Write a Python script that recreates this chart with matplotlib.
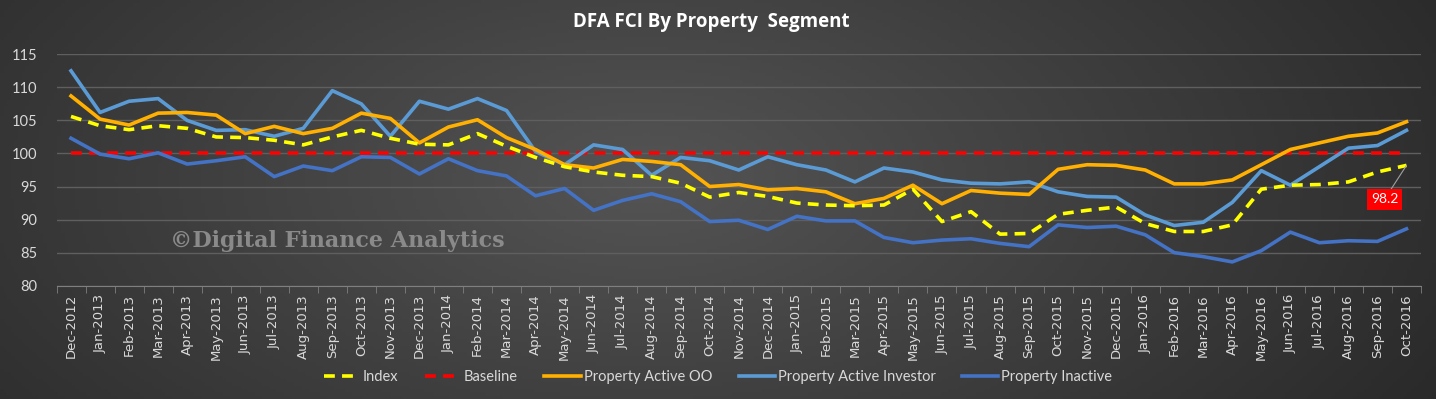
import numpy as np
import pandas as pd
import matplotlib
matplotlib.use("Agg")
import matplotlib.pyplot as plt

# month categories Dec-2012 .. Oct-2016
months = [d.strftime("%b-%Y") for d in pd.date_range("2012-12-01", "2016-10-01", freq="MS")]

index_vals = [105.6, 104.2, 103.6, 104.2, 103.8, 102.5, 102.4, 102.0, 101.3, 102.5,
              103.5, 102.3, 101.4, 101.3, 103.0, 101.1, 99.4, 98.0, 97.2, 96.7,
              96.5, 95.5, 93.4, 94.1, 93.5, 92.5, 92.2, 92.1, 92.2, 94.6,
              89.7, 91.2, 87.8, 87.9, 90.8, 91.4, 91.9, 89.4, 88.2, 88.2,
              89.2, 94.6, 95.2, 95.3, 95.7, 97.2, 98.2]
baseline = 100
active_oo = [108.7, 105.2, 104.3, 106.1, 106.2, 105.8, 103.0, 104.1, 103.0, 103.8,
             106.1, 105.3, 101.6, 104.0, 105.1, 102.4, 100.6, 98.3, 97.8, 99.1,
             98.8, 98.3, 95.0, 95.3, 94.5, 94.7, 94.2, 92.4, 93.2, 95.2,
             92.4, 94.4, 94.0, 93.8, 97.6, 98.3, 98.2, 97.5, 95.4, 95.4,
             96.0, 98.3, 100.6, 101.6, 102.6, 103.1, 104.8]
active_investor = [112.5, 106.2, 107.9, 108.3, 105.0, 103.5, 103.6, 102.6, 103.8, 109.5,
                   107.5, 102.6, 107.9, 106.7, 108.3, 106.5, 100.3, 98.3, 101.3, 100.6,
                   96.7, 99.4, 98.9, 97.5, 99.5, 98.3, 97.5, 95.7, 97.8, 97.2,
                   96.0, 95.5, 95.4, 95.7, 94.2, 93.5, 93.4, 90.7, 89.1, 89.6,
                   92.6, 97.4, 95.2, 98.0, 100.8, 101.2, 103.5]
inactive = [102.3, 99.9, 99.2, 100.1, 98.4, 98.9, 99.5, 96.5, 98.1, 97.4,
            99.5, 99.4, 96.9, 99.2, 97.4, 96.6, 93.6, 94.7, 91.4, 92.9,
            93.9, 92.7, 89.7, 89.9, 88.5, 90.5, 89.8, 89.8, 87.3, 86.5,
            86.9, 87.1, 86.4, 85.9, 89.2, 88.8, 89.0, 87.7, 85.0, 84.4,
            83.6, 85.3, 88.1, 86.5, 86.8, 86.7, 88.6]
yticks = [80, 85, 90, 95, 100, 105, 110, 115]

W, H = 1436, 399
fig = plt.figure(figsize=(W / 100, H / 100), dpi=100)

# dark radial background
bg = fig.add_axes([0, 0, 1, 1])
gx, gy = np.meshgrid(np.linspace(0, 1, 400), np.linspace(0, 1, 120))
r = np.sqrt(((gx - 0.45) / 0.75) ** 2 + ((gy - 0.45) / 1.4) ** 2)
shade = 0.33 - 0.20 * np.clip(r, 0, 1)
bg.imshow(np.dstack([shade] * 3), aspect="auto", extent=[0, 1, 0, 1])
bg.axis("off")

ax = fig.add_axes([56.5 / W, 1 - 285.7 / H, (1421 - 56.5) / W, (285.7 - 54.3) / H])
ax.patch.set_alpha(0)

x = np.arange(len(months))
lw = 2.6
ax.plot(x, index_vals, color="#FFFF00", lw=lw, dashes=(3, 2), label="Index", zorder=6)
ax.plot(x, [baseline] * len(months), color="#FF0000", lw=lw, dashes=(3, 2), label="Baseline", zorder=3)
ax.plot(x, active_oo, color="#FFB000", lw=lw, label="Property Active OO", zorder=5)
ax.plot(x, active_investor, color="#5B9BD5", lw=lw, label="Property Active Investor", zorder=4)
ax.plot(x, inactive, color="#4472C4", lw=lw, label="Property Inactive", zorder=4)

ax.set_xlim(-0.5, len(months) - 0.5)
ax.set_ylim(80, 115)
ax.set_yticks(yticks)
ax.set_xticks(x)
ax.set_xticklabels(months, rotation=90, fontsize=9.5, color="#d9d9d9", family="DejaVu Sans")
ax.set_xticks(np.arange(-0.5, len(months), 1), minor=True)
ax.tick_params(axis="x", which="major", length=0, pad=6)
ax.tick_params(axis="x", which="minor", length=5, color="#7f7f7f")
ax.tick_params(axis="y", length=0, labelsize=10.5, labelcolor="#d9d9d9", pad=14)
for lab in ax.get_yticklabels():
    lab.set_family("Lato")
ax.grid(axis="y", color="#5f5f5f", lw=1)
ax.set_axisbelow(True)
for side in ["top", "right", "left"]:
    ax.spines[side].set_visible(False)
ax.spines["bottom"].set_color("#7f7f7f")

ax.annotate(f"{index_vals[-1]:.1f}", xy=(x[-1], index_vals[-1]), xytext=(-22, -34),
            textcoords="offset pixels", ha="center", va="center", color="white",
            fontsize=10, family="Lato",
            bbox=dict(boxstyle="square,pad=0.3", fc="#FF0000", ec="none"),
            arrowprops=dict(arrowstyle="-", color="#a0a0a0", lw=0.8, shrinkA=0, shrinkB=0),
            zorder=8)

fig.text(0.495, 1 - 22 / H, "DFA FCI By Property  Segment", ha="center", va="center",
         color="white", fontsize=13.5, fontweight="bold", family="Open Sans")
fig.text(170 / W, 1 - 241 / H, "\u00a9Digital Finance Analytics", ha="left", va="center",
         color="#8a8a8a", fontsize=16, fontweight="bold", family="DejaVu Serif", zorder=2)

leg = fig.legend(loc="center", bbox_to_anchor=(0.5, 1 - 377 / H), ncol=5, frameon=False,
                 handlelength=2.5, columnspacing=1.8, handletextpad=0.2,
                 prop={"family": "Lato", "size": 10.5})
for t in leg.get_texts():
    t.set_color("#d9d9d9")

fig.savefig("out.png", dpi=100)
